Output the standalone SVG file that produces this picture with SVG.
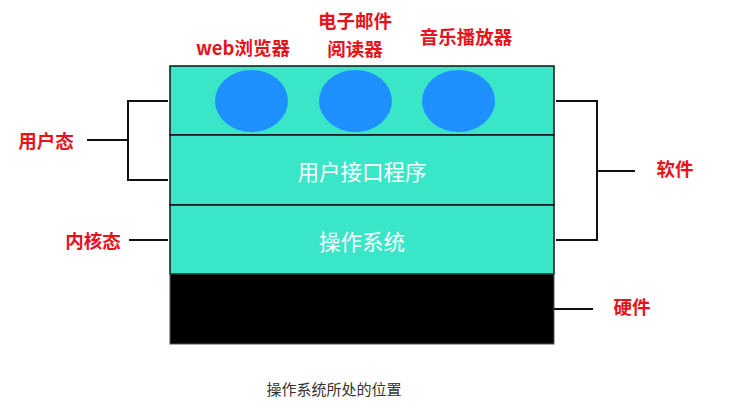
<svg xmlns="http://www.w3.org/2000/svg" width="742" height="405" viewBox="0 0 742 405">
<style>
.lbl{font-family:"Noto Sans CJK SC","Liberation Sans",sans-serif;font-size:18.5px;font-weight:bold;fill:#e8121c;text-anchor:middle;dominant-baseline:central}
.in{font-family:"Noto Sans CJK SC","Liberation Sans",sans-serif;font-size:21.5px;fill:#fff;text-anchor:middle;dominant-baseline:central}
.cap{font-family:"Noto Sans CJK SC","Liberation Sans",sans-serif;font-size:15px;fill:#333;text-anchor:middle;dominant-baseline:central}
.layer{fill:#3ae6c8;stroke:#111;stroke-width:1.5}
.app{fill:#1e90ff}
.ln{fill:none;stroke:#111;stroke-width:2}
</style>
<rect width="742" height="405" fill="#fff"/>
<g id="apps-layer">
<rect class="layer" x="170" y="66" width="384" height="69"/>
<ellipse class="app" cx="251.5" cy="101" rx="36.5" ry="31"/>
<ellipse class="app" cx="355.5" cy="101" rx="36.5" ry="31"/>
<ellipse class="app" cx="458.5" cy="101" rx="36.5" ry="31"/>
</g>
<g id="ui-layer">
<rect class="layer" x="170" y="135" width="384" height="70"/>
<text class="in" x="362" y="170">用户接口程序</text>
</g>
<g id="os-layer">
<rect class="layer" x="170" y="205" width="384" height="69"/>
<text class="in" x="362" y="240">操作系统</text>
</g>
<g id="hardware-layer">
<rect x="170" y="274" width="384" height="70" fill="#000" stroke="#555" stroke-width="1"/>
</g>
<g id="labels">
<text class="lbl" x="243" y="47">web浏览器</text>
<text class="lbl" x="355" y="20">电子邮件</text>
<text class="lbl" x="355" y="48">阅读器</text>
<text class="lbl" x="466" y="36">音乐播放器</text>
<text class="lbl" x="46" y="140">用户态</text>
<text class="lbl" x="93" y="240">内核态</text>
<text class="lbl" x="675" y="168">软件</text>
<text class="lbl" x="632" y="306">硬件</text>
</g>
<g id="connectors">
<path class="ln" d="M168 101H128V180H168"/>
<path class="ln" d="M87 140H128"/>
<path class="ln" d="M129 240H168"/>
<path class="ln" d="M556 101H597V240H556"/>
<path class="ln" d="M597 171H635"/>
<path class="ln" d="M554 309H593"/>
</g>
<text class="cap" x="334" y="388">操作系统所处的位置</text>
</svg>
